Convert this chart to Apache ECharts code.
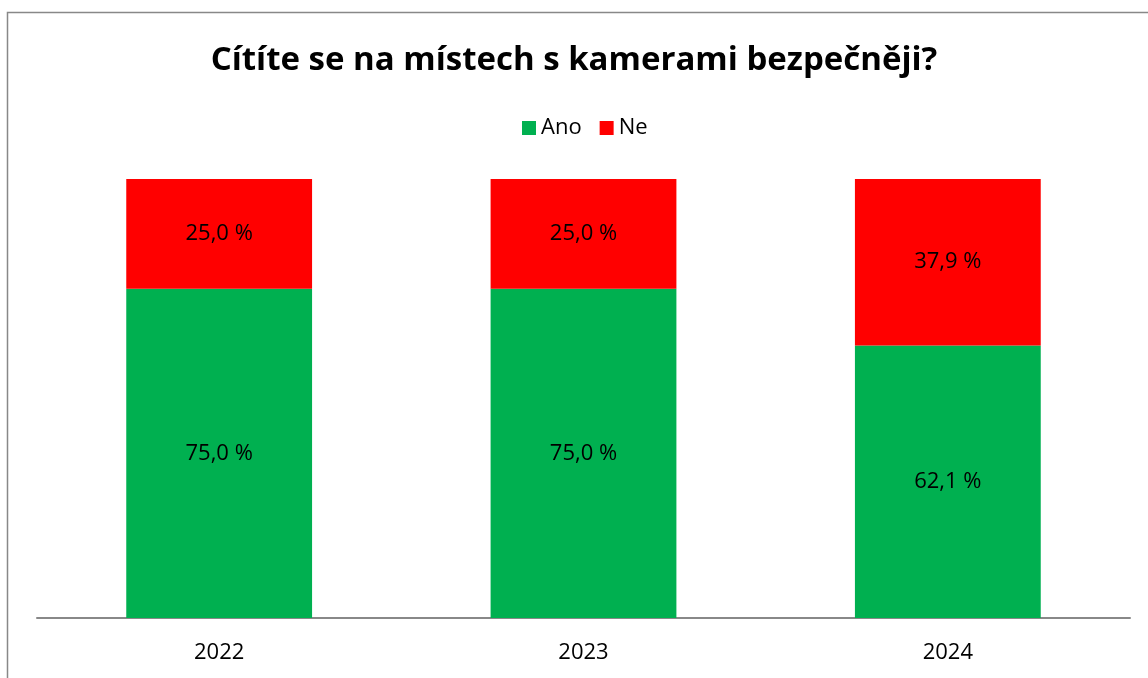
<!DOCTYPE html>
<html>
<head>
<meta charset="utf-8">
<script src="https://cdn.jsdelivr.net/npm/echarts@6/dist/echarts.min.js"></script>
<style>
html, body { margin: 0; padding: 0; background: #fff; }
#main { width: 1148px; height: 678px; }
</style>
</head>
<body>
<div id="main"></div>
<script>
var years = ['2022', '2023', '2024'];
var anoValues = [75.0, 75.0, 62.1];
var neValues = [25.0, 25.0, 37.9];

var fontFamily = '"Open Sans", "Noto Sans", sans-serif';

// popisek ve formatu "75,0 %"
function pct(p) {
    return p.value.toFixed(1).replace('.', ',') + ' %';
}

var myChart = echarts.init(document.getElementById('main'));
myChart.setOption({
    animation: false,
    title: {
        text: 'Cítíte se na místech s kamerami bezpečněji?',
        left: 'center',
        top: 39,
        textStyle: { fontFamily: fontFamily, fontWeight: 'bold', fontSize: 33, color: '#000' }
    },
    legend: {
        left: 517,
        top: 112,
        itemWidth: 14,
        itemHeight: 14,
        itemGap: 18,
        icon: 'rect',
        textStyle: { fontFamily: fontFamily, fontSize: 22, color: '#000' },
        data: ['Ano', 'Ne']
    },
    graphic: [{
        type: 'rect',
        shape: { x: 7.5, y: 12.5, width: 1200, height: 700 },
        style: { fill: 'none', stroke: '#888', lineWidth: 1.5 },
        silent: true
    }],
    grid: { left: 37, right: 18, top: 179, bottom: 60 },
    xAxis: {
        type: 'category',
        data: years,
        axisLine: { lineStyle: { color: '#888', width: 2 } },
        axisTick: { show: false },
        axisLabel: { fontFamily: fontFamily, fontSize: 22, color: '#000', margin: 24 }
    },
    yAxis: {
        type: 'value',
        min: 0,
        max: 100,
        show: false
    },
    series: [{
        name: 'Ano',
        type: 'bar',
        stack: 'a',
        barWidth: '51%',
        data: anoValues,
        itemStyle: { color: '#00B050' },
        label: { show: true, position: 'inside', formatter: pct, fontFamily: fontFamily, fontSize: 22, color: '#000' }
    }, {
        name: 'Ne',
        type: 'bar',
        stack: 'a',
        barWidth: '51%',
        data: neValues,
        itemStyle: { color: '#FF0000' },
        label: { show: true, position: 'inside', formatter: pct, fontFamily: fontFamily, fontSize: 22, color: '#000' }
    }]
});
</script>
</body>
</html>
